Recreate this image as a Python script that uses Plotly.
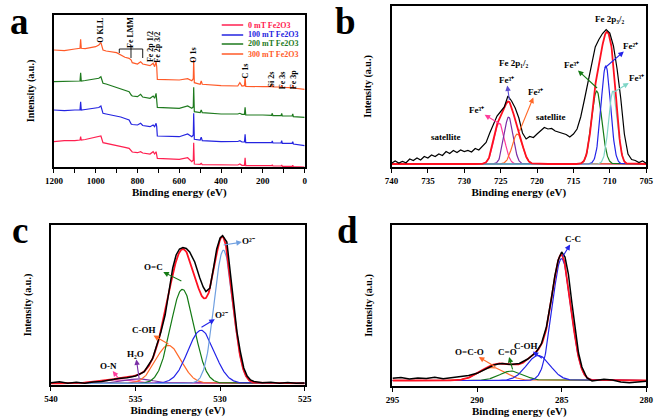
import numpy as np
import plotly.graph_objects as go

FONT = "Liberation Serif"

# ---------------- Panel a : XPS survey spectra (offset stacked) ----------------
survey_energy = [1200, 1150, 1100, 1075, 1072, 1069, 1050, 1000, 985, 975, 965, 950, 900, 880, 860,
                 840, 830, 825, 800, 785, 775, 740, 725, 718, 711, 708, 705, 600, 560, 540, 533, 531,
                 528, 500, 495, 490, 400, 320, 310, 300, 288, 285, 282, 200, 158, 155, 152, 113, 110,
                 107, 60, 57, 54, 0]
survey_300mT = [117.0, 116.3, 118.0, 118.7, 127.7, 118.7, 118.3, 120.3, 122.0, 124.3, 117.0, 116.0, 114.3,
                112.0, 109.7, 108.7, 107.0, 104.3, 103.0, 105.3, 103.0, 101.3, 103.7, 100.3, 105.3, 100.3,
                87.7, 87.0, 88.3, 86.3, 88.3, 107.0, 84.3, 82.7, 86.0, 82.7, 81.3, 81.0, 84.3, 81.0, 81.3,
                89.7, 80.7, 80.3, 80.3, 82.7, 80.0, 80.0, 81.7, 79.7, 79.3, 82.0, 79.0, 77.7]
survey_200mT = [85.3, 85.3, 86.0, 86.0, 94.3, 86.0, 86.5, 87.7, 88.7, 90.3, 83.7, 83.0, 79.7, 78.7, 77.0,
                75.3, 72.0, 71.0, 70.3, 72.7, 70.0, 68.7, 71.0, 68.7, 73.7, 68.7, 59.7, 58.7, 61.0, 58.7,
                60.3, 79.7, 55.3, 54.3, 57.0, 54.3, 53.0, 53.0, 53.7, 52.7, 52.7, 59.7, 52.0, 52.0, 51.7,
                53.7, 51.3, 51.3, 53.7, 51.0, 51.0, 53.0, 50.3, 49.7]
survey_100mT = [57.0, 56.3, 57.0, 57.0, 65.3, 57.0, 57.5, 58.7, 59.5, 61.0, 53.7, 53.0, 51.0, 50.0, 48.5,
                47.0, 43.0, 42.5, 42.0, 43.7, 41.5, 40.3, 42.0, 40.3, 43.7, 40.3, 31.0, 30.3, 33.0, 30.3,
                32.0, 53.7, 27.7, 27.0, 29.7, 26.3, 25.3, 25.5, 26.3, 25.0, 25.0, 32.7, 24.3, 24.3, 24.3,
                26.0, 24.0, 24.0, 26.3, 23.7, 23.7, 25.3, 23.0, 21.3]
survey_0mT = [25.3, 26.3, 26.3, 27.0, 30.3, 27.0, 27.5, 29.7, 30.0, 31.0, 24.3, 23.7, 22.0, 21.0, 19.7,
              18.7, 15.3, 15.0, 14.3, 15.3, 14.0, 13.0, 15.3, 13.0, 15.3, 13.0, 8.7, 7.7, 9.3, 5.3, 7.0,
              24.3, 3.0, 2.7, 3.7, 2.3, 2.0, 2.0, 3.0, 1.7, 1.7, 9.3, 1.3, 1.3, 1.3, 2.3, 1.0, 1.0, 2.0,
              0.7, 0.7, 1.7, 0.3, 0.0]
series_names = ["0 mT Fe2O3", "100 mT Fe2O3", "200 mT Fe2O3", "300 mT Fe2O3"]
series_colors = ["#FF2050", "#2424E0", "#1E7A1E", "#FF5A28"]

survey_labels = ["O KLL", "Fe LMM", "Fe 2p 1/2", "Fe 2p 3/2", "O 1s", "C 1s", "Si 2s", "Fe 3s", "Fe 3p"]
survey_label_energy = [976, 831, 735, 703, 531, 283, 154, 103, 50]
survey_label_level = [137, 135, 120, 120, 112, 96, 88, 87, 87]

# ---------------- Panel b : Fe 2p ----------------
fe_energy = [740, 739.5, 739, 738.5, 738, 737.5, 737, 736.5, 736, 735.5, 735, 734.5, 734, 733.5, 733,
             732.5, 732, 731.5, 731, 730.5, 730, 729.5, 729, 728.5, 728, 727.5, 727, 726.5, 726, 725.5,
             725, 724.5, 724, 723.5, 723, 722.5, 722, 721.5, 721, 720.5, 720, 719.5, 719, 718.5, 718,
             717.5, 717, 716.5, 716, 715.5, 715, 714.5, 714, 713.5, 713, 712.5, 712, 711.5, 711, 710.5,
             710, 709.5, 709, 708.5, 708, 707.5, 707, 706.5, 706, 705.5, 705]
fe_counts = [3.7, 6.0, 4.0, 5.5, 4.3, 8.0, 6.5, 9.0, 7.0, 10.5, 9.0, 12.0, 10.5, 13.0, 11.5,
             15.5, 13.5, 16.5, 14.5, 17.0, 15.5, 16.5, 15.0, 18.5, 17.0, 21.0, 24.5, 34.0, 43.5, 51.0,
             55.5, 60.0, 71.0, 66.0, 59.0, 49.0, 34.0, 28.0, 30.5, 29.5, 33.0, 36.0, 39.5, 38.0, 38.5,
             36.0, 35.0, 33.5, 32.5, 30.0, 33.0, 38.0, 50.0, 67.0, 85.0, 104.0, 120.0, 127.5, 133.5, 137.5,
             134.0, 121.0, 98.0, 69.0, 33.0, 13.0, 7.5, 6.5, 4.5, 6.0, 3.8]
fe_baseline = 3.0
fe_center = [725.2, 723.9, 722.7, 711.8, 710.55, 709.55]
fe_height = [41, 47, 30, 73, 98, 73]
fe_sigma = [0.72, 0.62, 0.72, 0.70, 0.65, 0.60]
fe_colors = ["#FF3C9B", "#7A2EA6", "#FF6A2A", "#147A14", "#2424E8", "#7FD6C6"]

# ---------------- Panel c : O 1s ----------------
o_energy = [540, 539.5, 539, 538.5, 538, 537.5, 537, 536.5, 536, 535.5, 535, 534.5, 534, 533.5, 533.25,
            533, 532.8, 532.6, 532.4, 532.2, 532, 531.8, 531.5, 531.2, 531, 530.84, 530.6, 530.4, 530.2,
            530, 529.85, 529.6, 529.4, 529.2, 529, 528.8, 528.6, 528.4, 528.2, 528, 527.5, 527, 526.5,
            526, 525.5, 525]
o_counts = [2.3, 3.3, 1.7, 2.7, 1.7, 3.0, 3.5, 5.0, 6.5, 7.2, 9.0, 13.0, 26.0, 53.0, 70.0,
            96.0, 117.0, 130.0, 136.0, 137.5, 136.5, 133.0, 123.0, 107.0, 98.0, 93.5, 97.0, 116.0, 136.0,
            147.0, 149.3, 143.0, 112.0, 80.0, 53.0, 33.0, 17.0, 9.0, 5.0, 3.5, 2.3, 2.8, 1.7,
            2.5, 1.8, 2.0]
o_baseline = 1.7
o_center = [536.1, 534.8, 533.06, 532.23, 531.13, 529.8]
o_height = [3.5, 4.5, 38, 94, 53, 133]
o_sigma = [1.0, 0.8, 0.75, 0.70, 0.78, 0.55]
o_colors = ["#FF3C9B", "#7A2EA6", "#FF6A2A", "#147A14", "#2424E8", "#6F9FE0"]

# ---------------- Panel d : C 1s ----------------
c_energy = [295, 294.5, 294, 293.5, 293, 292.5, 292, 291.5, 291, 290.5, 290, 289.5, 289, 288.75, 288.5,
            288, 287.5, 287, 286.5, 286.2, 285.9, 285.6, 285.4, 285.2, 285, 284.8, 284.6, 284.4, 284.2,
            284, 283.8, 283.5, 283.2, 283, 282.5, 282, 281.5, 281, 280.5, 280]
c_counts = [7.7, 8.5, 7.0, 8.0, 7.5, 8.7, 7.3, 8.3, 9.0, 10.5, 12.7, 17.0, 21.0, 22.0, 22.5,
            21.5, 22.5, 27.0, 34.0, 42.0, 59.0, 88.0, 110.0, 126.0, 134.0, 129.0, 112.0, 84.0, 57.0,
            33.0, 19.0, 8.0, 5.0, 5.5, 6.8, 6.0, 4.0, 3.3, 4.2, 4.7]
c_baseline = 5.5
c_center = [289.1, 287.96, 286.38, 285.0]
c_height = [13, 9.5, 25, 122]
c_sigma = [0.80, 0.70, 0.70, 0.55]
c_colors = ["#FF6A2A", "#147A14", "#2424E8", "#2424E8"]

ENVELOPE = "#FF1020"

fig = go.Figure()

# ---- panel a traces
for vals, name, col in zip([survey_0mT, survey_100mT, survey_200mT, survey_300mT], series_names, series_colors):
    fig.add_trace(go.Scatter(x=survey_energy, y=vals, mode="lines", name=name,
                             line=dict(color=col, width=1.2), xaxis="x", yaxis="y", showlegend=False))


def gauss(grid, c, h, s, base):
    return base + h * np.exp(-(grid - c) ** 2 / (2 * s * s))


def add_fit(grid, centers, heights, sigmas, colors, base, xa, ya):
    total = np.full_like(grid, base)
    for c, h, s, col in zip(centers, heights, sigmas, colors):
        comp = gauss(grid, c, h, s, base)
        total += comp - base
        fig.add_trace(go.Scatter(x=grid, y=comp, mode="lines", line=dict(color=col, width=1.2),
                                 xaxis=xa, yaxis=ya, showlegend=False))
    fig.add_trace(go.Scatter(x=grid, y=total, mode="lines", line=dict(color=ENVELOPE, width=1.8),
                             xaxis=xa, yaxis=ya, showlegend=False))


add_fit(np.linspace(705, 740, 701), fe_center, fe_height, fe_sigma, fe_colors, fe_baseline, "x2", "y2")
fig.add_trace(go.Scatter(x=fe_energy, y=fe_counts, mode="lines", line=dict(color="black", width=1.2),
                         xaxis="x2", yaxis="y2", showlegend=False))
add_fit(np.linspace(525, 540, 601), o_center, o_height, o_sigma, o_colors, o_baseline, "x3", "y3")
fig.add_trace(go.Scatter(x=o_energy, y=o_counts, mode="lines", line=dict(color="black", width=1.5),
                         xaxis="x3", yaxis="y3", showlegend=False))
add_fit(np.linspace(280, 295, 601), c_center, c_height, c_sigma, c_colors, c_baseline, "x4", "y4")
fig.add_trace(go.Scatter(x=c_energy, y=c_counts, mode="lines", line=dict(color="black", width=1.5),
                         xaxis="x4", yaxis="y4", showlegend=False))

W, H = 661, 419

tickf = dict(family=FONT, size=9, color="black", weight="bold")
titlef = dict(family=FONT, size=11, color="black", weight="bold")
ytitlef = dict(family=FONT, size=10, color="black", weight="bold")


def xax(dom, rng, dtick, minor=None, anchor="y"):
    d = dict(domain=dom, range=rng, dtick=dtick, tick0=0, showline=True, linecolor="black", linewidth=1.5,
             mirror=True, ticks="outside", ticklen=4, tickwidth=1.2, tickcolor="black", tickfont=tickf,
             showgrid=False, zeroline=False, anchor=anchor,
             title=dict(text="Binding energy (eV)", font=titlef, standoff=3))
    if minor:
        d["minor"] = dict(dtick=minor, ticks="outside", ticklen=4, tickcolor="black", tickwidth=1.2)
    return d


def yax(dom, rng, anchor):
    return dict(domain=dom, range=rng, showline=True, linecolor="black", linewidth=1.5, mirror=True,
                ticks="", showticklabels=False, showgrid=False, zeroline=False, anchor=anchor,
                title=dict(text="Intensity (a.u.)", font=ytitlef, standoff=16))


fig.update_layout(
    width=W, height=H, margin=dict(l=0, r=0, t=0, b=0), paper_bgcolor="white", plot_bgcolor="white",
    showlegend=False,
    xaxis=xax([46 / W, 303 / W], [1200, 0], 200, 100, "y"),
    yaxis=yax([1 - 167 / H, 1 - 15 / H], [0, 152], "x"),
    xaxis2=xax([392 / W, 653 / W], [740, 705], 5, None, "y2"),
    yaxis2=yax([1 - 167 / H, 1 - 6 / H], [0, 161], "x2"),
    xaxis3=xax([43 / W, 303 / W], [540, 525], 5, None, "y3"),
    yaxis3=yax([1 - 385 / H, 1 - 225 / H], [0, 160], "x3"),
    xaxis4=xax([393 / W, 653 / W], [295, 280], 5, None, "y4"),
    yaxis4=yax([1 - 386 / H, 1 - 225 / H], [0, 161], "x4"),
)

ann = []
shapes = []

# panel letters (top of text box in px)
for letter, xpx, toppx in [("a", 0, 0), ("b", 333, 0), ("c", 2, 209), ("d", 335, 209)]:
    ann.append(dict(text=letter, xref="paper", yref="paper", x=xpx / W, y=1 - toppx / H,
                    xanchor="left", yanchor="top", showarrow=False, borderpad=0,
                    font=dict(family=FONT, size=37, color="black", weight="bold")))

# panel a: rotated peak labels
for t, e, v in zip(survey_labels, survey_label_energy, survey_label_level):
    ann.append(dict(text=t, x=e, y=v, xref="x", yref="y", textangle=-90, showarrow=False,
                    font=dict(family=FONT, size=8, color="black", weight="bold")))
# Fe LMM bracket
for x0, y0, x1, y1 in [(887, 118, 775, 118), (887, 118, 887, 114), (831, 122, 831, 109), (775, 118, 775, 109)]:
    shapes.append(dict(type="line", xref="x", yref="y", x0=x0, y0=y0, x1=x1, y1=y1,
                       line=dict(color="black", width=0.9)))

# panel a manual legend
for i, (name, col) in enumerate(zip(series_names, series_colors)):
    ypx = [25, 35, 44, 54][i]
    shapes.append(dict(type="line", xref="paper", yref="paper", x0=218 / W, x1=240 / W,
                       y0=1 - ypx / H, y1=1 - ypx / H, line=dict(color=col, width=1.5)))
    ann.append(dict(text=name, xref="paper", yref="paper", x=243 / W, y=1 - ypx / H, xanchor="left",
                    yanchor="middle", showarrow=False,
                    font=dict(family=FONT, size=8, color=col, weight="bold")))


def tagged(xr, yr, peak, lab, txt, col, size=9):
    # label text at `lab`, arrow drawn from the peak at `peak` with its head at the label
    return dict(x=peak[0], y=peak[1], ax=lab[0], ay=lab[1], xref=xr, yref=yr, axref=xr, ayref=yr,
                text=txt, showarrow=True, arrowside="start", startarrowhead=2, startarrowsize=1,
                arrowwidth=1.1, arrowcolor=col, borderpad=0,
                font=dict(family=FONT, size=size, color="black", weight="bold"))


def label(xr, yr, pos, txt, size=9):
    return dict(x=pos[0], y=pos[1], xref=xr, yref=yr, text=txt, showarrow=False,
                font=dict(family=FONT, size=size, color="black", weight="bold"))


# panel b annotations
b_tags = [((711.75, 79), (715.2, 102), "Fe³⁺", "#147A14"),
          ((710.7, 99), (707.2, 121), "Fe²⁺", "#2424E8"),
          ((709.4, 75), (706.3, 89), "Fe³⁺", "#7FD6C6"),
          ((723.8, 67), (724.2, 87), "Fe³⁺", "#5B4BD0"),
          ((722.4, 36), (720.2, 75), "Fe²⁺", "#FF6A2A"),
          ((725.1, 43), (728.3, 57), "Fe³⁺", "#FF3C9B")]
for p, l, t, c in b_tags:
    ann.append(tagged("x2", "y2", p, l, t, c))
b_labels = [((732.5, 30), "satellite"), ((718.1, 50), "satellite"),
            ((710.1, 148), "Fe 2p₃/₂"), ((723.2, 104), "Fe 2p₁/₂")]
for p, t in b_labels:
    ann.append(label("x2", "y2", p, t, 9))

# panel c annotations
c_tags = [((529.79, 140), (528.3, 144), "O²⁻", "#6F9FE0"),
          ((532.29, 104), (533.95, 118), "O=C", "#147A14"),
          ((531.1, 57.7), (529.9, 70), "O²⁻", "#2424E8"),
          ((533.06, 41), (534.5, 55), "C-OH", "#FF6A2A"),
          ((534.79, 7), (535.0, 31), "H₂O", "#7A2EA6"),
          ((536.04, 7.3), (536.6, 19.5), "O-N", "#FF3C9B")]
for p, l, t, c in c_tags:
    ann.append(tagged("x3", "y3", p, l, t, c))

# panel d annotations
d_tags = [((284.94, 129.3), (284.3, 147), "C-C", "#2424E8"),
          ((286.17, 27.7), (287.13, 40), "C-OH", "#2424E8"),
          ((287.9, 16.7), (288.2, 34.5), "C=O", "#147A14"),
          ((288.92, 19.3), (290.45, 34.5), "O=C-O", "#FF6A2A")]
for p, l, t, c in d_tags:
    ann.append(tagged("x4", "y4", p, l, t, c))

fig.update_layout(annotations=ann, shapes=shapes)
fig.write_html("out.html", config={"displayModeBar": False},
               post_script="document.body.style.margin='0';document.body.style.overflow='hidden';")
